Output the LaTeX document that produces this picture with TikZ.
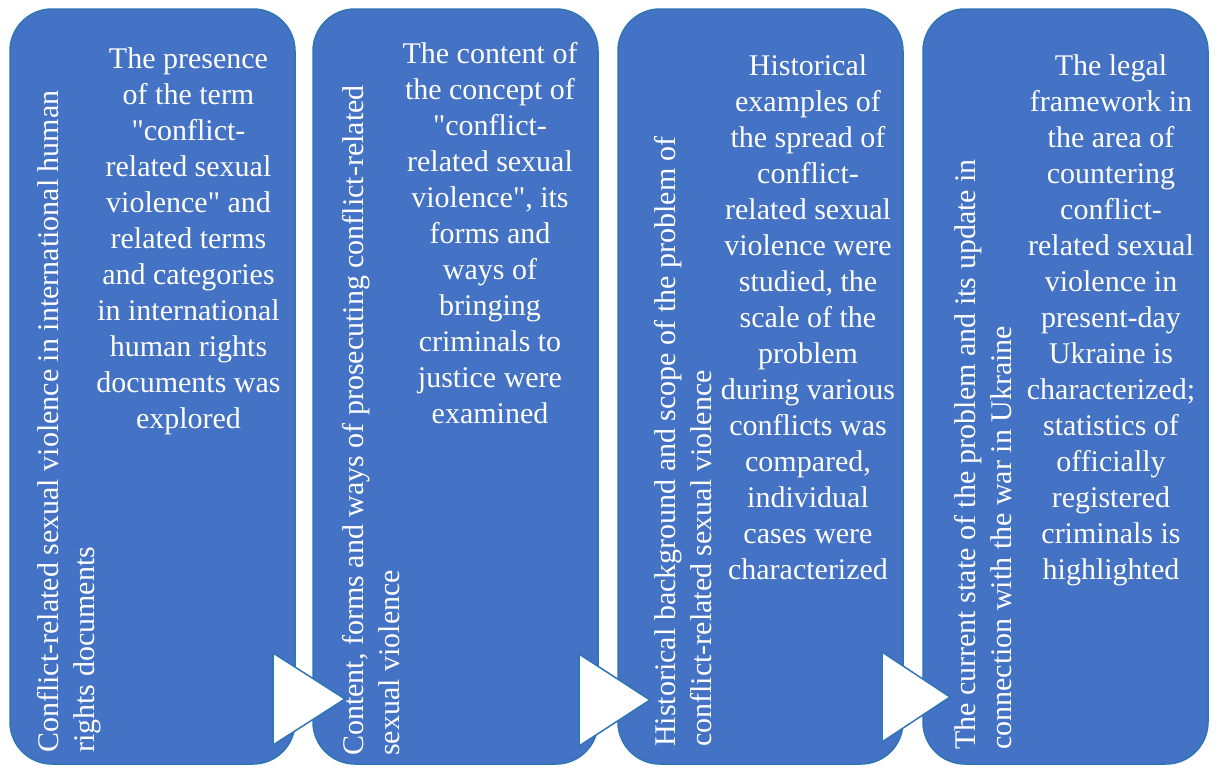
\documentclass[tikz,border=0pt]{standalone}
\usepackage{fontspec}
\setmainfont{Liberation Serif}[Ligatures=TeXOff]
\definecolor{boxfill}{HTML}{4472C4}
\definecolor{boxline}{HTML}{2E75B6}
\begin{document}
\begin{tikzpicture}[x=1pt,y=-1pt,
  stagebox/.style={draw=boxline, line width=1.5pt, fill=boxfill, rounded corners=42pt,
    minimum width=285pt, minimum height=755pt, inner sep=0pt},
  desc/.style={text=white, font=\fontsize{30}{36}\selectfont, align=center, anchor=north, inner sep=0pt},
  stagetitle/.style={text=white, font=\fontsize{30}{36}\selectfont, align=left, rotate=90, anchor=north west, inner sep=0pt},
  arrowtri/.style={draw=boxline, line width=1.5pt, fill=white, line join=miter}]
\useasboundingbox (0,0) rectangle (1216,766);
% boxes
\node[stagebox] (b1) at (152.5,386.5) {};
\node[stagebox] (b2) at (455.5,386.5) {};
\node[stagebox] (b3) at (760.5,386.5) {};
\node[stagebox] (b4) at (1065.5,386.5) {};
% arrows
\draw[arrowtri] (273,653) -- (345,699) -- (273,745) -- cycle;
\draw[arrowtri] (579,654) -- (650,700) -- (579,746) -- cycle;
\draw[arrowtri] (882,652) -- (950,697) -- (882,742) -- cycle;
% vertical titles
\node[stagetitle] (t1) at (37,753) {Conflict-related sexual violence in international human\\rights documents};
\node[stagetitle] (t2) at (342,756) {Content, forms and ways of prosecuting conflict-related\\sexual violence};
\node[stagetitle] (t3) at (654,747) {Historical background and scope of the problem of\\conflict-related sexual violence};
\node[stagetitle] (t4) at (954,750) {The current state of the problem and its update in\\connection with the war in Ukraine};
% descriptions
\node[desc] (d1) at (188.5,47.5) {The presence\\of the term\\"conflict-\\related sexual\\violence" and\\related terms\\and categories\\in international\\human rights\\documents was\\explored};
\node[desc] (d2) at (490,42.5) {The content of\\the concept of\\"conflict-\\related sexual\\violence", its\\forms and\\ways of\\bringing\\criminals to\\justice were\\examined};
\node[desc] (d3) at (808,54.5) {Historical\\examples of\\the spread of\\conflict-\\related sexual\\violence were\\studied, the\\scale of the\\problem\\during various\\conflicts was\\compared,\\individual\\cases were\\characterized};
\node[desc] (d4) at (1111,54.5) {The legal\\framework in\\the area of\\countering\\conflict-\\related sexual\\violence in\\present-day\\Ukraine is\\characterized;\\statistics of\\officially\\registered\\criminals is\\highlighted};
\end{tikzpicture}
\end{document}
